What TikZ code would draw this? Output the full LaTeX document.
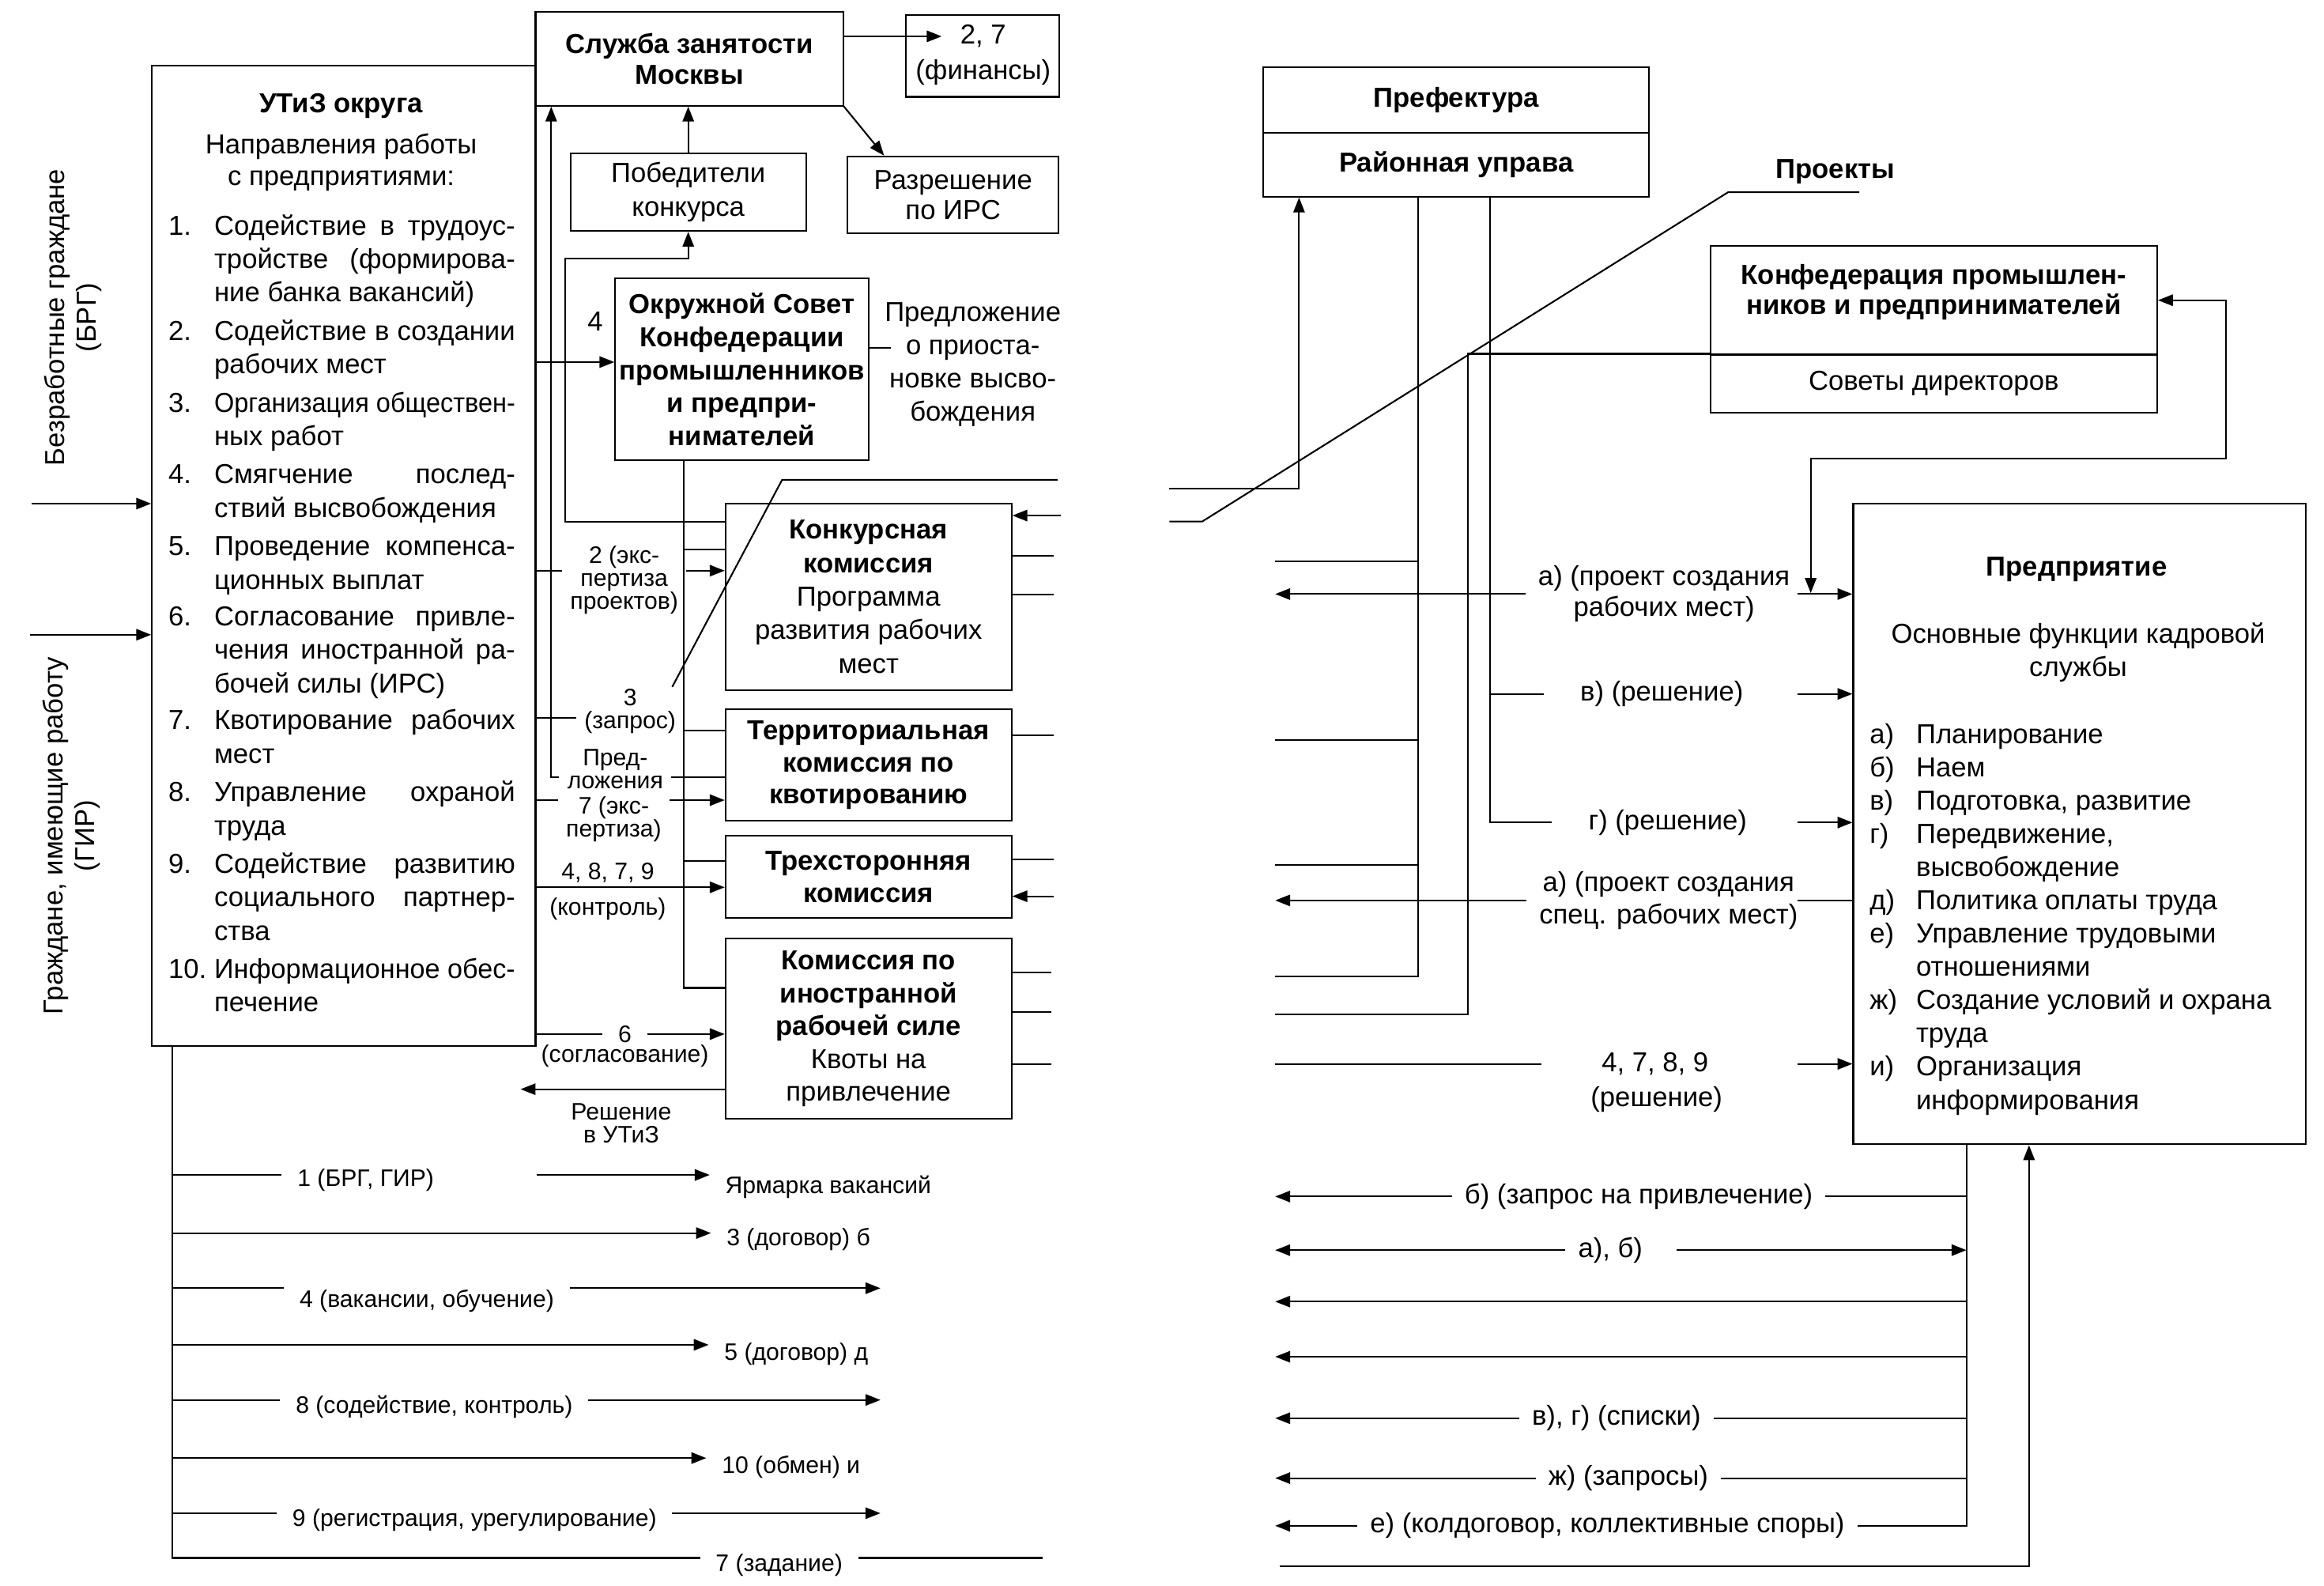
\documentclass[tikz,border=0pt]{standalone}
\usepackage{fontspec}
\usepackage{graphicx}
\setmainfont{Liberation Sans}
\usetikzlibrary{arrows.meta}
\newcommand{\jline}[1]{\setbox0\hbox{#1}\ifdim\wd0>101pt\resizebox{101pt}{\height}{#1}\else\makebox[101pt][s]{#1}\fi}
\begin{document}
\begin{tikzpicture}[x=0.5pt,y=-0.5pt,line width=0.55pt,
  every node/.style={font=\fontsize{9.2}{11}\selectfont},
  box/.style={draw,inner sep=0pt,align=center},
  bftext/.style={font=\fontsize{9.2}{11}\selectfont\bfseries},
  lbl/.style={inner xsep=2.5pt,inner ysep=0.5pt,align=center,font=\fontsize{8}{7.7}\selectfont},
  blbl/.style={inner xsep=5pt,inner ysep=1pt,font=\fontsize{8}{9}\selectfont},
  rlbl/.style={inner xsep=4pt,inner ysep=1pt,align=center,font=\fontsize{9.2}{10.4}\selectfont},
  arr/.style={-{Triangle[length=5pt,width=3.8pt]}},
  arrboth/.style={{Triangle[length=5pt,width=3.8pt]}-{Triangle[length=5pt,width=3.8pt]}}]
\useasboundingbox (0,0) rectangle (1560,1064);

\node[align=center,rotate=90,font=\fontsize{9.2}{10.5}\selectfont] (brg) at (49,213) {Безработные граждане\\(БРГ)};
\node[align=center,rotate=90,font=\fontsize{9.2}{10.5}\selectfont] (gir) at (48,561) {Граждане, имеющие работу\\(ГИР)};

\node[box,minimum width=128.75pt,minimum height=329pt] (utiz) at (230.75,373) {};
\node[bftext] (utizT) at (229,71) {УТиЗ округа};
\node[align=center,font=\fontsize{9.2}{10.8}\selectfont] (utizS) at (229,109) {Направления работы\\с предприятиями:};
\node[anchor=north west,inner sep=0pt,font=\fontsize{9.2}{11.2}\selectfont] (utizL) at (112.5,141.5) {%
\begin{tabular}{@{}p{15.4pt}@{}l@{}}
1. & \jline{Содействие в трудоус-}\\
 & \jline{тройстве (формирова-}\\
 & ние банка вакансий)\\[1.7pt]
2. & \jline{Содействие в создании}\\
 & рабочих мест\\[1.7pt]
3. & \jline{Организация обществен-}\\
 & ных работ\\[1.7pt]
4. & \jline{Смягчение послед-}\\
 & ствий высвобождения\\[1.7pt]
5. & \jline{Проведение компенса-}\\
 & ционных выплат\\[1.2pt]
6. & \jline{Согласование привле-}\\
 & \jline{чения иностранной ра-}\\
 & бочей силы (ИРС)\\[1.2pt]
7. & \jline{Квотирование рабочих}\\
 & мест\\[1.7pt]
8. & \jline{Управление охраной}\\
 & труда\\[1.7pt]
9. & \jline{Содействие развитию}\\
 & \jline{социального партнер-}\\
 & ства\\[1.7pt]
10. & \jline{Информационное обес-}\\
 & печение
\end{tabular}};

\node[box,minimum width=103.25pt,minimum height=31.5pt,font=\fontsize{9.2}{10.6}\selectfont\bfseries] (sluzhba) at (462.75,39.5) {Служба занятости\\Москвы};
\node[draw,minimum width=51.5pt,minimum height=27.5pt] (fin) at (659.5,37.5) {};
\node[inner xsep=6pt] (fin27) at (660,24.4) {2, 7};
\node (finF) at (660,48.6) {(финансы)};
\node[box,minimum width=70.75pt,minimum height=25.75pt,font=\fontsize{9.2}{10}\selectfont] (razr) at (639.75,130.75) {Разрешение\\по ИРС};
\node[box,minimum width=79pt,minimum height=26pt,font=\fontsize{9.2}{11.5}\selectfont] (pobed) at (462,129) {Победители\\конкурса};
\node[box,minimum width=85pt,minimum height=61pt,font=\fontsize{9.2}{11.05}\selectfont\bfseries] (okr) at (498,248) {Окружной Совет\\Конфедерации\\промышленников\\и предпри-\\нимателей};
\node (lab4) at (399.5,215.5) {4};
\node[align=center,font=\fontsize{9.2}{11.15}\selectfont] (predl) at (653,244.6) {Предложение\\о приоста-\\новке высво-\\бождения};

\node[box,minimum width=96pt,minimum height=62.5pt,font=\fontsize{9.2}{11.25}\selectfont] (konk) at (583,400.5) {\textbf{Конкурсная}\\\textbf{комиссия}\\Программа\\развития рабочих\\мест};
\node[box,minimum width=96pt,minimum height=37.5pt,font=\fontsize{9.2}{10.85}\selectfont\bfseries] (terr) at (583,513.5) {Территориальная\\комиссия по\\квотированию};
\node[box,minimum width=96pt,minimum height=27.5pt,font=\fontsize{9.2}{11}\selectfont\bfseries] (trekh) at (583,588.5) {Трехсторонняя\\комиссия};
\node[box,minimum width=96pt,minimum height=60.5pt] (irs) at (583,690.5) {\textbf{Комиссия по}\\\textbf{иностранной}\\\textbf{рабочей силе}\\Квоты на\\привлечение};

\node[lbl] (lab2) at (419,389.5) {2 (экс-\\пертиза\\проектов)};
\node[lbl] (lab3) at (423,477.5) {3\\(запрос)};
\node[lbl] (labPr) at (413,516) {Пред-\\ложения};
\node[lbl] (lab7) at (412,550) {7 (экс-\\пертиза)};
\node[lbl] (lab4879) at (408,586) {4, 8, 7, 9};
\node[lbl] (labKontr) at (408,610) {(контроль)};
\node[lbl,inner xsep=5pt] (lab6) at (419.5,694) {6};
\node[lbl] (labSogl) at (419.5,709) {(согласование)};
\node[lbl] (labResh) at (417,754) {Решение\\в УТиЗ};

\node[blbl] (labB1) at (245.5,792) {1 (БРГ, ГИР)};
\node[blbl] (yarm) at (556,796.6) {Ярмарка вакансий};
\node[blbl] (labD3) at (536,831.6) {3 (договор) б};
\node[blbl] (labVak) at (286.5,873) {4 (вакансии, обучение)};
\node[blbl] (labD5) at (534.5,909) {5 (договор) д};
\node[blbl] (labSod) at (291.5,944) {8 (содействие, контроль)};
\node[blbl] (labObm) at (531,984.5) {10 (обмен) и};
\node[blbl] (labReg) at (318.5,1020) {9 (регистрация, урегулирование)};
\node[blbl] (labZad) at (523,1050.7) {7 (задание)};

\node[box,bftext,minimum width=129.5pt,minimum height=22pt] (pref) at (977.5,67) {Префектура};
\node[box,bftext,minimum width=129.5pt,minimum height=21.5pt] (rayon) at (977.5,110.5) {Районная управа};
\node[bftext] (proekty) at (1232,115) {Проекты};
\node[draw,minimum width=150pt,minimum height=36.5pt] (konf) at (1298,201.5) {};
\node[align=center,font=\fontsize{9.2}{10}\selectfont\bfseries] (konfT) at (1298,196) {Конфедерация промышлен-\\ников и предпринимателей};
\node[box,minimum width=150pt,minimum height=19.5pt] (sovety) at (1298,257.5) {Советы директоров};

\node[draw,minimum width=152pt,minimum height=215pt] (pred) at (1396,553) {};
\node[bftext] (predT) at (1394,382) {Предприятие};
\node[align=center,font=\fontsize{9.2}{11.2}\selectfont] (predS) at (1395,438) {Основные функции кадровой\\службы};
\node[anchor=north west,inner sep=0pt,font=\fontsize{9.2}{11.15}\selectfont] (predL) at (1254.5,483) {%
\begin{tabular}{@{}p{15.6pt}@{}l@{}}
а) & Планирование\\
б) & Наем\\
в) & Подготовка, развитие\\
г) & Передвижение,\\
 & высвобождение\\
д) & Политика оплаты труда\\
е) & Управление трудовыми\\
 & отношениями\\
ж) & Создание условий и охрана\\
 & труда\\
и) & Организация\\
 & информирования
\end{tabular}};

\node[rlbl] (labA) at (1117,398.7) {а) (проект создания\\рабочих мест)};
\node[rlbl,inner xsep=12pt] (labV) at (1115.5,465.7) {в) (решение)};
\node[rlbl,inner xsep=12pt] (labG) at (1119.5,552) {г) (решение)};
\node[rlbl,font=\fontsize{9.2}{10.7}\selectfont] (labA2) at (1120,604.3) {а) (проект создания\\спец. рабочих мест)};
\node[rlbl] (l4789) at (1111,714) {4, 7, 8, 9};
\node[rlbl] (lresh) at (1112,738) {(решение)};
\node[rlbl] (labB) at (1100,803) {б) (запрос на привлечение)};
\node[rlbl] (labAB) at (1081,839) {а), б)};
\node[rlbl] (labVG) at (1085,951.8) {в), г) (списки)};
\node[rlbl] (labZh) at (1093,992) {ж) (запросы)};
\node[rlbl] (labE) at (1079,1024) {е) (колдоговор, коллективные споры)};

\coordinate (brgin) at (21,338);
\coordinate (girin) at (20,426);
\draw[arr] (brgin) -- (brgin -| utiz.west);
\draw[arr] (girin) -- (girin -| utiz.west);

\draw[arr] (sluzhba.east |- fin27) -- (fin27.west);
\draw[arr] (sluzhba.south east) -- ([xshift=12.5pt]razr.north west);
\draw[arr] (pobed.north) -- (pobed.north |- sluzhba.south);
\draw[arr] ([shift={(0,13)}]konk.north west) -- ++(-107,0) |- ([shift={(0,18)}]pobed.south) -- (pobed.south);

\coordinate (okin) at ([shift={(0,-5)}]okr.west);
\draw[arr] (okin -| utiz.east) -- (okin);
\draw ([shift={(0,-14.5)}]okr.east) -- ++(14.5,0);

\coordinate (okrbot) at ([shift={(-39,0)}]okr.south);
\draw (okrbot) |- ([shift={(0,-27.5)}]irs.west);
\draw ([shift={(0,-31.5)}]konk.west) -| (okrbot);
\draw ([shift={(0,-23)}]terr.west) -| (okrbot);
\draw ([shift={(0,-10.5)}]trekh.west) -| (okrbot);

\coordinate (k2) at ([shift={(0,-17.5)}]konk.west);
\draw (k2 -| utiz.east) -- (k2 -| lab2.west);
\draw[arr] (k2 -| lab2.east) -- (k2);

\coordinate (k3) at ([shift={(0,4.5)}]lab3.west);
\coordinate (dtop) at (525,322);
\coordinate (gutL1) at (710,322);
\draw (k3 -| utiz.east) -- (k3);
\draw ([shift={(-8,0)}]lab3.north east) -- (dtop) -- (gutL1);

\coordinate (kpr) at ([shift={(0,8)}]terr.west);
\draw (kpr) -- (kpr -| labPr.east);
\draw[arr] (kpr -| labPr.west) -| ([shift={(-92.75,0)}]sluzhba.south);

\coordinate (k7) at ([shift={(0,23.5)}]terr.west);
\draw (k7 -| utiz.east) -- (k7 -| lab7.west);
\draw[arr] (k7 -| lab7.east) -- (k7);

\coordinate (k4) at ([shift={(0,7)}]trekh.west);
\draw[arr] (k4 -| utiz.east) -- (k4);

\coordinate (k6) at ([shift={(0,3.5)}]irs.west);
\draw (k6 -| utiz.east) -- (k6 -| lab6.west);
\draw[arr] (k6 -| lab6.east) -- (k6);

\draw[arr] ([shift={(0,40.5)}]irs.west) -- ++(-137,0);

\coordinate (gutL2) at (712,346);
\draw[arr] (gutL2) -- (gutL2 -| konk.east);
\draw ([shift={(0,-27.5)}]konk.east) -- ++(28,0);
\draw ([shift={(0,-1.5)}]konk.east) -- ++(28,0);
\draw ([shift={(0,-20)}]terr.east) -- ++(28,0);
\draw ([shift={(0,-11.5)}]trekh.east) -- ++(28,0);
\draw[arr] ([shift={(28,13)}]trekh.east) -- ([shift={(0,13)}]trekh.east);
\draw ([shift={(0,-38)}]irs.east) -- ++(26,0);
\draw ([shift={(0,-11.5)}]irs.east) -- ++(26,0);
\draw ([shift={(0,23.5)}]irs.east) -- ++(26,0);

\coordinate (vb) at ([shift={(-115,0)}]utiz.south);
\coordinate (b1) at ([shift={(0,86)}]vb);
\coordinate (b2) at ([shift={(0,125)}]vb);
\coordinate (b3) at ([shift={(0,162)}]vb);
\coordinate (b4) at ([shift={(0,200)}]vb);
\coordinate (b5) at ([shift={(0,237)}]vb);
\coordinate (b6) at ([shift={(0,276)}]vb);
\coordinate (b7) at ([shift={(0,313)}]vb);
\coordinate (b8) at ([shift={(0,343)}]vb);
\coordinate (bend) at (591,0);
\coordinate (bgut) at (700,0);
\draw (vb) -- (b8) -- (b8 -| labZad.west);
\draw (b8 -| labZad.east) -- (b8 -| bgut);
\draw (b1) -- (b1 -| labB1.west);
\draw[arr] (b1 -| utiz.east) -- (b1 -| yarm.west);
\draw[arr] (b2) -- (b2 -| labD3.west);
\draw (b3) -- (b3 -| labVak.west);
\draw[arr] (b3 -| labVak.east) -- (b3 -| bend);
\draw[arr] (b4) -- (b4 -| labD5.west);
\draw (b5) -- (b5 -| labSod.west);
\draw[arr] (b5 -| labSod.east) -- (b5 -| bend);
\draw[arr] (b6) -- (b6 -| labObm.west);
\draw (b7) -- (b7 -| labReg.west);
\draw[arr] (b7 -| labReg.east) -- (b7 -| bend);

\coordinate (gutR) at (856,0);
\coordinate (gutR1) at (785,328);
\coordinate (gutR2) at (785,350);
\coordinate (pin) at ([shift={(-37,0)}]pred.west);
\coordinate (rv1) at ([shift={(-25.5,0)}]rayon.south);
\coordinate (rv2) at ([shift={(22.5,0)}]rayon.south);
\draw[arr] (gutR1) -| ([shift={(-105.5,0)}]rayon.south);
\draw (gutR2) -- ++(22,0) -- ([shift={(-72,14)}]proekty.center) -- ([shift={(16,14)}]proekty.center);

\draw (rv1) -- ([shift={(0,523)}]rv1) -- ++(-96,0);
\draw ([shift={(0,244)}]rv1) -- ++(-96,0);
\draw ([shift={(0,364)}]rv1) -- ++(-96,0);
\draw ([shift={(0,448)}]rv1) -- ++(-96,0);
\draw (rv2) |- (labG.west);
\draw (rv2 |- labV) -- (labV.west);
\draw (sovety.north west) -- ++(-162,0) |- ([shift={(0,681)}]gutR);
\draw[arrboth] ([shift={(-28,-155)}]pred.west) |- ++(278.5,-90) |- (konf.east);

\draw[arr] (labA.west) -- (labA.west -| gutR);
\draw[arr] (pin |- labA) -- (pred.west |- labA);
\draw[arr] (pin |- labV) -- (pred.west |- labV);
\draw[arr] (pin |- labG) -- (pred.west |- labG);
\draw[arr] (labA2.west) -- (labA2.west -| gutR);
\draw (pin |- labA2) -- (pred.west |- labA2);
\draw ([xshift=-16pt]l4789.west) -- (l4789.west -| gutR);
\draw[arr] (pin |- l4789) -- (pred.west |- l4789);

\coordinate (vR) at ([shift={(-76,0)}]pred.south);
\coordinate (vU) at ([shift={(-34,0)}]pred.south);
\draw[arr] (labB.west) -- (labB.west -| gutR);
\draw (labB.east) -- (labB.east -| vR);
\draw[arr] (labAB.west) -- (labAB.west -| gutR);
\draw[arr] ([xshift=7pt]labAB.east) -- (labAB.east -| vR);
\draw[arr] ([shift={(0,105)}]vR) -- ++(-464,0);
\draw[arr] ([shift={(0,142)}]vR) -- ++(-464,0);
\draw[arr] (labVG.west) -- (labVG.west -| gutR);
\draw (labVG.east) -- (labVG.east -| vR);
\draw[arr] (labZh.west) -- (labZh.west -| gutR);
\draw (labZh.east) -- (labZh.east -| vR);
\draw[arr] (labE.west) -- (labE.west -| gutR);
\draw (vR) |- (labE.east);
\draw[arr] ([shift={(3,1051)}]gutR) -| (vU);
\end{tikzpicture}
\end{document}
